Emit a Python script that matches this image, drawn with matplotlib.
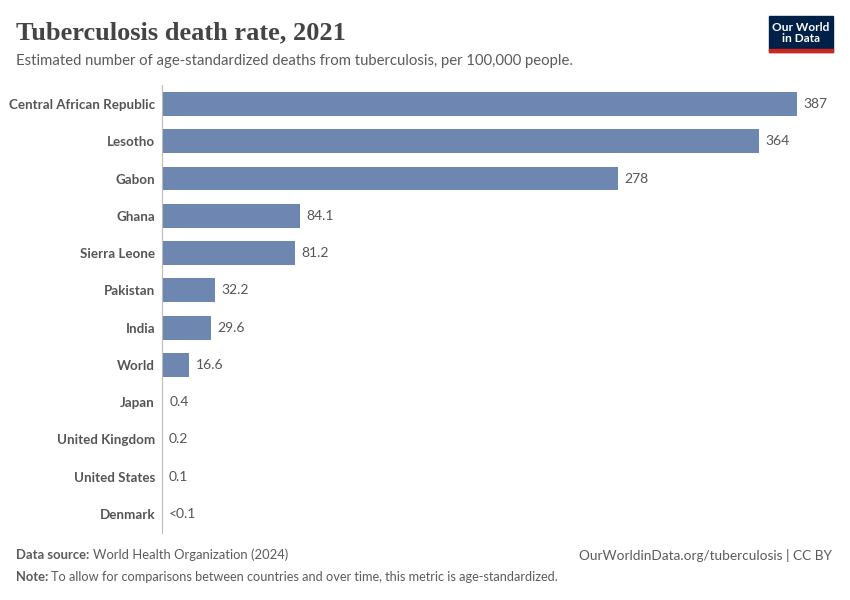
import matplotlib
matplotlib.use("Agg")
import matplotlib.pyplot as plt
from matplotlib.patches import Rectangle

plt.rcParams['font.family'] = ['Lato', 'DejaVu Sans']

countries = ["Central African Republic", "Lesotho", "Gabon", "Ghana", "Sierra Leone",
             "Pakistan", "India", "World", "Japan", "United Kingdom", "United States", "Denmark"]
rates = [387, 364, 278, 84.1, 81.2, 32.2, 29.6, 16.6, 0.4, 0.2, 0.1, 0.05]
rate_labels = ["387", "364", "278", "84.1", "81.2", "32.2", "29.6", "16.6", "0.4", "0.2", "0.1", "<0.1"]

bar_color = '#6d87b0'
text_color = '#555555'
foot_color = '#5b5b5b'

fig = plt.figure(figsize=(8.5, 6), dpi=100)
ax = fig.add_axes([162/850, 1 - 532.6/600, 635/850, 447.2/600])

ypos = list(range(len(countries)))
ax.barh(ypos, rates, height=0.64, color=bar_color)
ax.set_xlim(0, 387)
ax.set_ylim(len(countries) - 0.5, -0.5)

for y, v, lab in zip(ypos, rates, rate_labels):
    ax.text(v + 4, y, lab, va='center', ha='left', fontsize=10, color=text_color)

ax.set_yticks(ypos)
ax.set_yticklabels(countries, fontsize=9.6, color=text_color, fontweight='bold')
ax.tick_params(axis='y', length=0, pad=5)
ax.set_xticks([])
for s in ['top', 'right', 'bottom']:
    ax.spines[s].set_visible(False)
ax.spines['left'].set_color('#bbbbbb')
ax.spines['left'].set_linewidth(0.8)

fig.text(16/850, 1 - 33/600, "Tuberculosis death rate, 2021", fontsize=19, color='#444444',
         family=['Liberation Serif', 'DejaVu Serif'], fontweight='bold', va='center', ha='left')
fig.text(16/850, 1 - 61/600,
         "Estimated number of age-standardized deaths from tuberculosis, per 100,000 people.",
         fontsize=10.7, color=foot_color, va='center', ha='left')

# logo
fig.patches.append(Rectangle((769/850, 1 - 52/600), 64/850, 36/600, transform=fig.transFigure,
                             color='#002147', zorder=5))
fig.patches.append(Rectangle((769/850, 1 - 52/600), 64/850, 3/600, transform=fig.transFigure,
                             color='#ce261e', zorder=6))
fig.text(801/850, 1 - 33/600, "Our World\nin Data", fontsize=8.6, color='white', fontweight='bold',
         ha='center', va='center', linespacing=0.95, zorder=7)

# footer
fig.text(16/850, 1 - 555/600, "Data source:", fontsize=9.4, color=foot_color, fontweight='bold',
         va='center', ha='left')
fig.text(93/850, 1 - 555/600, "World Health Organization (2024)", fontsize=9.4, color=foot_color,
         va='center', ha='left')
fig.text(16/850, 1 - 577/600, "Note:", fontsize=9.4, color=foot_color, fontweight='bold',
         va='center', ha='left')
fig.text(51/850, 1 - 577/600,
         "To allow for comparisons between countries and over time, this metric is age-standardized.",
         fontsize=9.2, color=foot_color, va='center', ha='left')
fig.text(832/850, 1 - 555/600, "OurWorldinData.org/tuberculosis | CC BY", fontsize=9.8,
         color=foot_color, va='center', ha='right')

fig.savefig("out.png", dpi=100)
